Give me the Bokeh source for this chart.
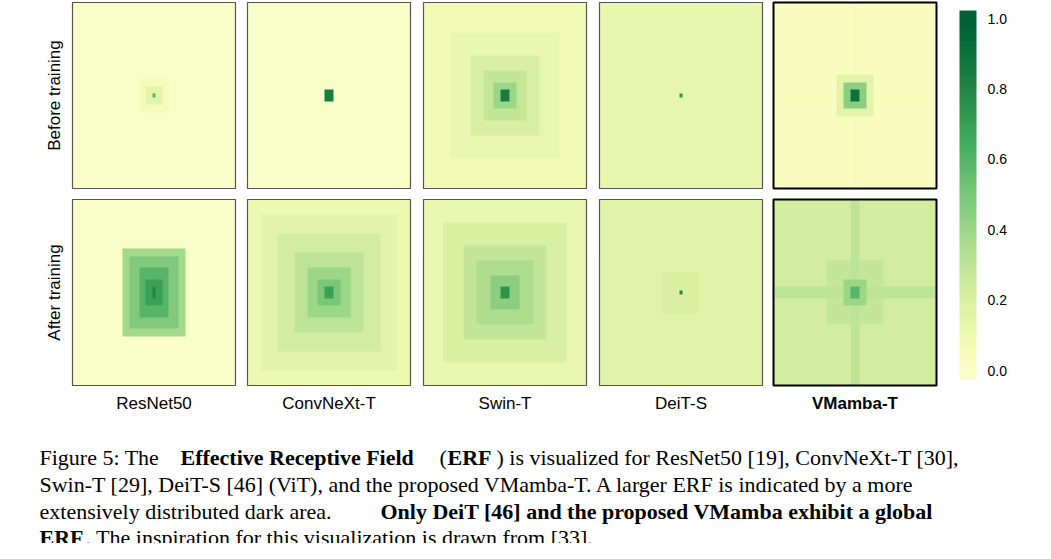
from bokeh.plotting import figure
from bokeh.models import Range1d, LinearColorMapper
from bokeh.palettes import YlGn
from bokeh.core.properties import value
from bokeh.embed import file_html
from bokeh.resources import INLINE
import numpy as np

models = ["ResNet50", "ConvNeXt-T", "Swin-T", "DeiT-S", "VMamba-T"]
rows = ["Before training", "After training"]
cbar_ticks = [0.0, 0.2, 0.4, 0.6, 0.8, 1.0]

# ERF: background level, then boxes (half-width x, half-width y, level)
bg_before = [0.0, 0.0, 0.08, 0.13, 0.03]
boxes_before = [
    [(4, 4, 0.06), (2, 2, 0.15), (0, 0, 0.6)],
    [(1, 1, 0.85)],
    [(16, 16, 0.12), (10, 10, 0.2), (6, 6, 0.28), (3, 3, 0.4), (1, 1, 0.85)],
    [(0, 0, 0.75)],
    [(24, 0, 0.05), (0, 24, 0.06), (5, 5, 0.15), (3, 3, 0.45), (1, 1, 0.9)],
]
bg_after = [0.0, 0.1, 0.12, 0.16, 0.22]
boxes_after = [
    [(9, 11, 0.38), (7, 9, 0.48), (4, 6, 0.6), (2, 3, 0.7), (0, 1, 0.8)],
    [(20, 20, 0.15), (15, 15, 0.22), (10, 10, 0.3), (6, 6, 0.4), (3, 3, 0.5), (1, 1, 0.7)],
    [(18, 18, 0.2), (12, 12, 0.28), (8, 8, 0.35), (4, 4, 0.45), (1, 1, 0.75)],
    [(5, 5, 0.2), (0, 0, 0.8)],
    [(24, 1, 0.3), (1, 24, 0.3), (8, 8, 0.28), (3, 3, 0.4), (1, 1, 0.6)],
]

N = 49
c = N // 2
ii, jj = np.mgrid[0:N, 0:N]


def erf(bg, boxes):
    a = np.full((N, N), bg, dtype=float)
    for hx, hy, v in boxes:
        m = (np.abs(jj - c) <= hx) & (np.abs(ii - c) <= hy)
        a[m] = np.maximum(a[m], v)
    return a


def rgb(h):
    return [int(h[k:k + 2], 16) for k in (1, 3, 5)]


# YlGn 9 stops, light -> dark, stretched to 256 colours
stops = sorted(YlGn[9], key=lambda h: -sum(rgb(h)))
st = np.array([rgb(h) for h in stops], dtype=float)
t = np.linspace(0, 8, 256)
full = [np.interp(t, np.arange(9), st[:, ch]) for ch in range(3)]
pal = ["#%02x%02x%02x" % tuple(int(round(full[ch][i])) for ch in range(3)) for i in range(256)]
pal = pal[22:232]
cmap = LinearColorMapper(palette=pal, low=0, high=1)

p = figure(width=1035, height=543, output_backend="svg", toolbar_location=None,
           x_range=Range1d(8, 1043), y_range=Range1d(-551, -8), min_border=0)
p.axis.visible = False
p.grid.visible = False
p.outline_line_color = None

px = [80, 255, 431, 607, 781]
py = [10, 207]
pw, ph = 163, 186
for r, (bgs, bxs) in enumerate([(bg_before, boxes_before), (bg_after, boxes_after)]):
    for k in range(5):
        img = erf(bgs[k], bxs[k])
        p.image(image=[img], x=px[k], y=-(py[r] + ph), dw=pw, dh=ph, color_mapper=cmap)
        bold = k == 4
        p.quad(left=px[k], right=px[k] + pw, top=-py[r], bottom=-(py[r] + ph),
               fill_color=None, line_color="black" if bold else "#555555",
               line_width=2 if bold else 1.2)

for k, m in enumerate(models):
    p.text(x=[px[k] + pw / 2], y=[-411], text=[m], text_align="center", text_baseline="middle",
           text_font=value("Liberation Sans"), text_font_size="17px",
           text_font_style="bold" if k == 4 else "normal", text_color="black")
for r, lab in enumerate(rows):
    p.text(x=[62], y=[-(py[r] + ph / 2)], text=[lab], angle=np.pi / 2, text_align="center",
           text_baseline="middle", text_font=value("Liberation Sans"), text_font_size="17px",
           text_color="black")

# colorbar
lo, hi = -0.028, 1.028
bar = np.linspace(lo, hi, 200).reshape(200, 1)
p.image(image=[bar], x=967, y=-387, dw=17, dh=369, color_mapper=cmap)
for tk in cbar_ticks:
    p.text(x=[995], y=[-(378 - tk * 352)], text=[f"{tk:.1f}"], text_baseline="middle",
           text_font=value("Liberation Sans"), text_font_size="14px", text_color="black")

# caption
serif = value("Liberation Serif")
caption = [
    (47, 465, "Figure 5: The ", "normal"),
    (188, 465, "Effective Receptive Field", "bold"),
    (447, 465, "(", "normal"),
    (455, 465, "ERF", "bold"),
    (504, 465, ") is visualized for ResNet50 [19], ConvNeXt-T [30],", "normal"),
    (47, 492, "Swin-T [29], DeiT-S [46] (ViT), and the proposed VMamba-T. A larger ERF is indicated by a more", "normal"),
    (47, 519, "extensively distributed dark area. ", "normal"),
    (388, 519, "Only DeiT [46] and the proposed VMamba exhibit a global", "bold"),
    (47, 545, "ERF", "bold"),
    (93, 545, ". The inspiration for this visualization is drawn from [33].", "normal"),
]
for x, y, s, sty in caption:
    p.text(x=[x], y=[-y], text=[s], text_baseline="middle", text_font=serif,
           text_font_size="22px", text_font_style=sty, text_color="black")

open("out.html", "w").write(file_html(p, INLINE))
